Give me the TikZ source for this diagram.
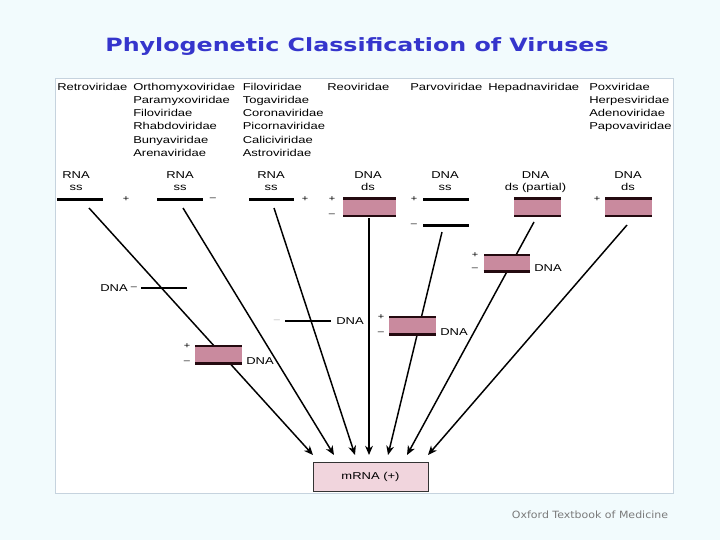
\documentclass[tikz,border=0pt]{standalone}
\usepackage{fontspec}
\setmainfont[FakeStretch=1.3]{Liberation Sans}
\newfontfamily\titlefont[FakeStretch=1.3]{DejaVu Sans}
\newfontfamily\footfont[FakeStretch=1.1]{DejaVu Sans}
\usetikzlibrary{arrows.meta}
\definecolor{pagebg}{HTML}{F2FBFD}
\definecolor{panelline}{HTML}{C6D3DE}
\definecolor{titleblue}{HTML}{3535CC}
\definecolor{mauve}{HTML}{C98A9E}
\definecolor{blush}{HTML}{F1D5DD}
\definecolor{boxline}{HTML}{240A10}
\definecolor{footgray}{HTML}{7A7A7A}
\tikzset{
  family/.style={anchor=north west,inner sep=0pt,align=left,font=\fontsize{7.1}{9.46}\selectfont},
  kind/.style={anchor=north,inner sep=0pt,align=center,font=\fontsize{7.1}{8.6}\selectfont},
  tag/.style={inner sep=0pt,font=\fontsize{7.1}{8}\selectfont},
  sign/.style={inner sep=0pt,font=\fontsize{6}{6}\selectfont},
  strand/.style={rectangle,fill=black,inner sep=0pt,minimum width=32.7pt,minimum height=1.8pt},
  duplex/.style={rectangle,fill=mauve,inner sep=0pt,minimum width=33.4pt,minimum height=13.5pt,
    path picture={\draw[boxline,line width=2.8pt] (path picture bounding box.north west) -- (path picture bounding box.north east)
      (path picture bounding box.south west) -- (path picture bounding box.south east);}},
  flow/.style={-{Stealth[length=6.5pt,width=5.5pt,inset=2pt]},line width=1.05pt,black}
}

\begin{document}
\begin{tikzpicture}[x=0.025cm,y=-0.025cm]
  \fill[pagebg] (0,0) rectangle (720,540);
  \useasboundingbox (0,0) rectangle (720,540);
  \draw[panelline,fill=white] (55,78) rectangle (673,493);
  \node[anchor=base,text=titleblue,font=\titlefont\fontsize{13}{15}\selectfont\bfseries] (title) at (357,51) {Phylogenetic Classification of Viruses};

  % families
  \node[family] (retro) at (57,82.5) {Retroviridae};
  \node[family] (orthomyxo) at (133,82.5) {Orthomyxoviridae\\Paramyxoviridae\\Filoviridae\\Rhabdoviridae\\Bunyaviridae\\Arenaviridae};
  \node[family] (filo) at (242.5,82.5) {Filoviridae\\Togaviridae\\Coronaviridae\\Picornaviridae\\Caliciviridae\\Astroviridae};
  \node[family] (reo) at (327,82.5) {Reoviridae};
  \node[family] (parvo) at (410,82.5) {Parvoviridae};
  \node[family] (hepadna) at (488,82.5) {Hepadnaviridae};
  \node[family] (pox) at (589,82.5) {Poxviridae\\Herpesviridae\\Adenoviridae\\Papovaviridae};

  % genome types
  \node[kind] (k1) at (76,171.5) {RNA\\ss};
  \node[kind] (k2) at (180,171.5) {RNA\\ss};
  \node[kind] (k3) at (271,171.5) {RNA\\ss};
  \node[kind] (k4) at (368,171.5) {DNA\\ds};
  \node[kind] (k5) at (445,171.5) {DNA\\ss};
  \node[kind] (k6) at (535.5,171.5) {DNA\\ds (partial)};
  \node[kind] (k7) at (628,171.5) {DNA\\ds};

  % arrows into mRNA
  \coordinate (from1) at (89,208);   \coordinate (to1) at (313,455);
  \coordinate (from2) at (183,208);  \coordinate (to2) at (334,455);
  \coordinate (from3) at (274,208);  \coordinate (to3) at (355,455);
  \coordinate (from4) at (369,218);  \coordinate (to4) at (369,455);
  \coordinate (from5) at (442,232);  \coordinate (to5) at (388,455);
  \coordinate (from6) at (534,222);  \coordinate (to6) at (407,455);
  \coordinate (from7) at (627,225);  \coordinate (to7) at (428,455);
  \draw[flow] (from1) -- (to1);
  \draw[flow] (from2) -- (to2);
  \draw[flow] (from3) -- (to3);
  \draw[flow] (from4) -- (to4);
  \draw[flow] (from5) -- (to5);
  \draw[flow] (from6) -- (to6);
  \draw[flow] (from7) -- (to7);

  % genomes
  \node[strand] (s1) at (80,199.3) {};
  \node[sign] (s1p) at (126,199) {+};
  \node[strand] (s2) at (180,199.3) {};
  \node[sign] (s2m) at (213,199) {--};
  \node[strand] (s3) at (271.5,199.3) {};
  \node[sign] (s3p) at (305,199) {+};
  \node[duplex,minimum width=37.7pt] (d4) at (369.5,207.2) {};
  \node[sign] (d4p) at (332,199) {+};
  \node[sign] (d4m) at (332,215) {--};
  \node[strand] (s5a) at (446,199.3) {};
  \node[sign] (s5p) at (414,199) {+};
  \node[strand] (s5b) at (446,225.7) {};
  \node[sign] (s5m) at (414,225.5) {--};
  \node[duplex] (d6) at (537.5,207.2) {};
  \node[duplex] (d7) at (628.5,207.2) {};
  \node[sign] (d7p) at (597,199) {+};

  % intermediates
  \node[strand] (i1) at (164,288) {};
  \node[tag] (i1l) at (114,288.5) {DNA};
  \node[sign] (i1m) at (134,288) {--};
  \node[duplex] (i2) at (218.5,354.5) {};
  \node[sign] (i2p) at (187,346) {+};
  \node[sign] (i2m) at (187,362) {--};
  \node[tag] (i2l) at (260,361) {DNA};
  \node[strand] (i3) at (308,321) {};
  \node[sign,text=black!30] (i3m) at (277,321.5) {--};
  \node[tag] (i3l) at (350,321) {DNA};
  \node[duplex] (i4) at (412.5,325.5) {};
  \node[sign] (i4p) at (381,317) {+};
  \node[sign] (i4m) at (381,333) {--};
  \node[tag] (i4l) at (454,332) {DNA};
  \node[duplex,minimum height=12.8pt] (i5) at (507,263) {};
  \node[sign] (i5p) at (475,255) {+};
  \node[sign] (i5m) at (475,269) {--};
  \node[tag] (i5l) at (548,268) {DNA};

  \node[draw=black!80,fill=blush,inner sep=0pt,minimum width=81.8pt,minimum height=20.6pt,font=\fontsize{7.1}{8}\selectfont] (mrna) at (370.5,476.5) {mRNA (+)};
  \node[text=footgray,font=\footfont\fontsize{7.1}{8}\selectfont] (source) at (590,515) {Oxford Textbook of Medicine};
\end{tikzpicture}
\end{document}
